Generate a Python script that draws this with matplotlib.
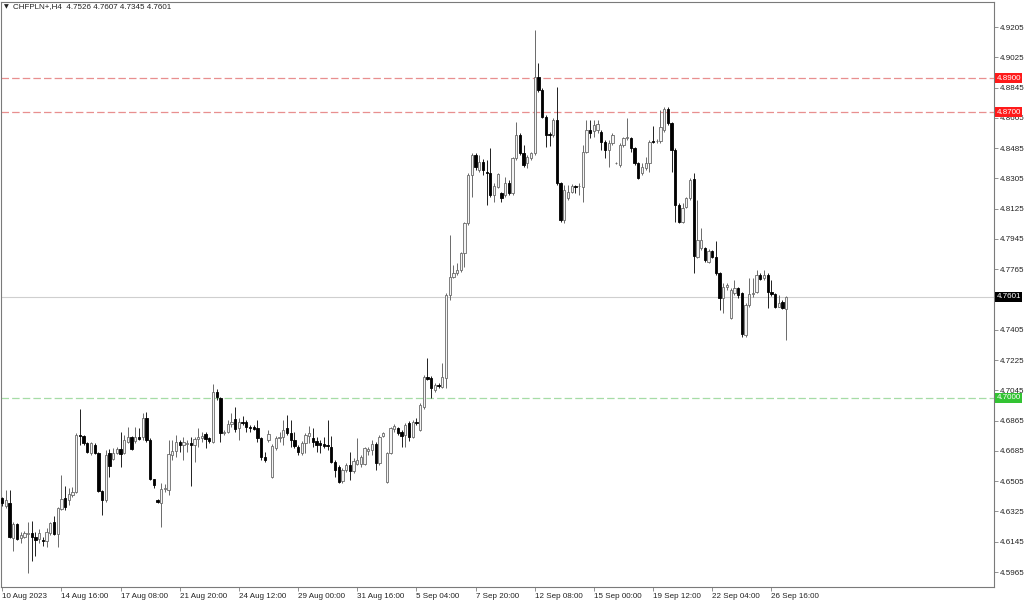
import matplotlib
matplotlib.use("Agg")
import matplotlib.pyplot as plt

plt.rcParams['font.family'] = ['Liberation Sans', 'DejaVu Sans']

# CHFPLN+ H4 candles, 10 Aug 2023 00:00 .. 27 Sep 2023 08:00
opens = [
    4.6405, 4.6357, 4.6375, 4.6167, 4.6250, 4.6167, 4.6173, 4.6191, 4.6197, 4.6173,
    4.6161, 4.6155, 4.6149, 4.6197, 4.6262, 4.6191, 4.6339, 4.6405, 4.6393, 4.6423,
    4.6441, 4.6779, 4.6774, 4.6732, 4.6672, 4.6720, 4.6672, 4.6447, 4.6393, 4.6672,
    4.6637, 4.6672, 4.6696, 4.6672, 4.6738, 4.6768, 4.6744, 4.6768, 4.6768, 4.6880,
    4.6750, 4.6518, 4.6393, 4.6375, 4.6458, 4.6452, 4.6661, 4.6684, 4.6738, 4.6720,
    4.6726, 4.6732, 4.6720, 4.6756, 4.6762, 4.6785, 4.6762, 4.6738, 4.7035, 4.6999,
    4.6791, 4.6797, 4.6845, 4.6875, 4.6821, 4.6857, 4.6857, 4.6827, 4.6827, 4.6821,
    4.6762, 4.6649, 4.6750, 4.6530, 4.6702, 4.6762, 4.6768, 4.6821, 4.6791, 4.6750,
    4.6708, 4.6672, 4.6732, 4.6774, 4.6762, 4.6744, 4.6732, 4.6726, 4.6720, 4.6708,
    4.6619, 4.6589, 4.6506, 4.6571, 4.6601, 4.6565, 4.6607, 4.6607, 4.6607, 4.6684,
    4.6690, 4.6726, 4.6613, 4.6774, 4.6500, 4.6672, 4.6815, 4.6821, 4.6797, 4.6779,
    4.6851, 4.6768, 4.6857, 4.6809, 4.6946, 4.7124, 4.7118, 4.7047, 4.7077, 4.7065,
    4.7118, 4.7612, 4.7719, 4.7743, 4.7760, 4.7861, 4.8040, 4.8325, 4.8444, 4.8355,
    4.8402, 4.8343, 4.8337, 4.8206, 4.8254, 4.8218, 4.8206, 4.8278, 4.8218, 4.8426,
    4.8563, 4.8456, 4.8396, 4.8426, 4.8456, 4.8908, 4.8830, 4.8670, 4.8569, 4.8563,
    4.8652, 4.8278, 4.8058, 4.8188, 4.8224, 4.8260, 4.8260, 4.8254, 4.8462, 4.8593,
    4.8587, 4.8593, 4.8581, 4.8521, 4.8474, 4.8515, 4.8396, 4.8385, 4.8503, 4.8545,
    4.8545, 4.8486, 4.8396, 4.8337, 4.8367, 4.8396, 4.8527, 4.8527, 4.8527, 4.8593,
    4.8717, 4.8634, 4.8474, 4.8147, 4.8046, 4.8135, 4.8188, 4.8301, 4.7838, 4.7891,
    4.7891, 4.7808, 4.7873, 4.7838, 4.7743, 4.7594, 4.7659, 4.7475, 4.7624, 4.7653,
    4.7624, 4.7374, 4.7552, 4.7618, 4.7630, 4.7731, 4.7713, 4.7731, 4.7630, 4.7618,
    4.7540, 4.7570, 4.7526,
]
highs = [
    4.6411, 4.6452, 4.6452, 4.6262, 4.6256, 4.6203, 4.6209, 4.6262, 4.6268, 4.6203,
    4.6221, 4.6173, 4.6227, 4.6262, 4.6298, 4.6351, 4.6542, 4.6476, 4.6464, 4.6470,
    4.6791, 4.6934, 4.6779, 4.6738, 4.6738, 4.6732, 4.6678, 4.6452, 4.6690, 4.6696,
    4.6702, 4.6708, 4.6797, 4.6779, 4.6827, 4.6774, 4.6827, 4.6821, 4.6910, 4.6916,
    4.6762, 4.6518, 4.6399, 4.6494, 4.6488, 4.6750, 4.6750, 4.6779, 4.6750, 4.6768,
    4.6750, 4.6768, 4.6768, 4.6821, 4.6797, 4.6797, 4.6768, 4.7083, 4.7053, 4.7005,
    4.6809, 4.6869, 4.6910, 4.6946, 4.6880, 4.6892, 4.6869, 4.6839, 4.6839, 4.6869,
    4.6768, 4.6678, 4.6809, 4.6726, 4.6774, 4.6797, 4.6869, 4.6898, 4.6869, 4.6797,
    4.6720, 4.6744, 4.6791, 4.6833, 4.6821, 4.6768, 4.6750, 4.6768, 4.6869, 4.6774,
    4.6631, 4.6601, 4.6583, 4.6613, 4.6678, 4.6643, 4.6762, 4.6661, 4.6708, 4.6708,
    4.6750, 4.6738, 4.6779, 4.6797, 4.6678, 4.6827, 4.6845, 4.6827, 4.6809, 4.6851,
    4.6863, 4.6869, 4.6880, 4.6970, 4.7136, 4.7237, 4.7130, 4.7089, 4.7089, 4.7208,
    4.7624, 4.7968, 4.7790, 4.7802, 4.7867, 4.8046, 4.8337, 4.8456, 4.8456, 4.8444,
    4.8420, 4.8414, 4.8486, 4.8278, 4.8337, 4.8224, 4.8313, 4.8295, 4.8432, 4.8640,
    4.8575, 4.8503, 4.8444, 4.8462, 4.9187, 4.8991, 4.8842, 4.8682, 4.8581, 4.8664,
    4.8848, 4.8284, 4.8266, 4.8266, 4.8272, 4.8266, 4.8278, 4.8503, 4.8652, 4.8652,
    4.8652, 4.8652, 4.8593, 4.8533, 4.8533, 4.8575, 4.8402, 4.8515, 4.8551, 4.8664,
    4.8551, 4.8492, 4.8402, 4.8396, 4.8432, 4.8533, 4.8616, 4.8539, 4.8712, 4.8729,
    4.8729, 4.8640, 4.8486, 4.8159, 4.8159, 4.8194, 4.8307, 4.8337, 4.8177, 4.8010,
    4.7897, 4.7885, 4.7879, 4.7933, 4.7748, 4.7683, 4.7683, 4.7653, 4.7701, 4.7659,
    4.7630, 4.7564, 4.7713, 4.7713, 4.7760, 4.7743, 4.7760, 4.7743, 4.7701, 4.7624,
    4.7612, 4.7582, 4.7607,
]
lows = [
    4.6357, 4.6345, 4.6167, 4.6090, 4.6155, 4.6137, 4.6167, 4.5959, 4.6030, 4.6060,
    4.6137, 4.6120, 4.6114, 4.6185, 4.6185, 4.6114, 4.6334, 4.6334, 4.6363, 4.6411,
    4.6435, 4.6720, 4.6720, 4.6672, 4.6661, 4.6666, 4.6441, 4.6304, 4.6381, 4.6530,
    4.6631, 4.6666, 4.6589, 4.6666, 4.6732, 4.6690, 4.6732, 4.6750, 4.6750, 4.6738,
    4.6512, 4.6464, 4.6375, 4.6233, 4.6441, 4.6423, 4.6631, 4.6649, 4.6678, 4.6631,
    4.6678, 4.6476, 4.6619, 4.6708, 4.6738, 4.6702, 4.6732, 4.6732, 4.6988, 4.6738,
    4.6779, 4.6791, 4.6827, 4.6797, 4.6750, 4.6839, 4.6797, 4.6797, 4.6809, 4.6738,
    4.6631, 4.6619, 4.6738, 4.6524, 4.6690, 4.6738, 4.6720, 4.6779, 4.6708, 4.6702,
    4.6661, 4.6661, 4.6672, 4.6732, 4.6708, 4.6678, 4.6672, 4.6702, 4.6690, 4.6613,
    4.6530, 4.6494, 4.6494, 4.6559, 4.6512, 4.6554, 4.6601, 4.6589, 4.6601, 4.6661,
    4.6661, 4.6571, 4.6601, 4.6768, 4.6494, 4.6666, 4.6797, 4.6779, 4.6708, 4.6708,
    4.6744, 4.6762, 4.6839, 4.6803, 4.6934, 4.7106, 4.6999, 4.7035, 4.7059, 4.7059,
    4.7059, 4.7582, 4.7713, 4.7731, 4.7748, 4.7778, 4.8028, 4.8194, 4.8355, 4.8343,
    4.8325, 4.8147, 4.8194, 4.8165, 4.8248, 4.8165, 4.8194, 4.8206, 4.8206, 4.8414,
    4.8444, 4.8373, 4.8367, 4.8414, 4.8444, 4.8819, 4.8664, 4.8492, 4.8498, 4.8551,
    4.8266, 4.8046, 4.8040, 4.8177, 4.8218, 4.8218, 4.8206, 4.8165, 4.8456, 4.8545,
    4.8551, 4.8575, 4.8474, 4.8426, 4.8373, 4.8503, 4.8391, 4.8373, 4.8492, 4.8533,
    4.8462, 4.8385, 4.8301, 4.8325, 4.8355, 4.8343, 4.8515, 4.8515, 4.8515, 4.8581,
    4.8622, 4.8343, 4.8046, 4.8040, 4.8040, 4.8129, 4.8177, 4.7743, 4.7832, 4.7879,
    4.7808, 4.7802, 4.7832, 4.7731, 4.7523, 4.7505, 4.7641, 4.7469, 4.7612, 4.7594,
    4.7362, 4.7362, 4.7540, 4.7600, 4.7624, 4.7701, 4.7701, 4.7534, 4.7606, 4.7534,
    4.7540, 4.7528, 4.7345,
]
closes = [
    4.6375, 4.6393, 4.6173, 4.6250, 4.6161, 4.6185, 4.6197, 4.6197, 4.6173, 4.6155,
    4.6197, 4.6149, 4.6203, 4.6256, 4.6191, 4.6345, 4.6399, 4.6351, 4.6429, 4.6441,
    4.6779, 4.6774, 4.6732, 4.6678, 4.6732, 4.6672, 4.6447, 4.6393, 4.6661, 4.6595,
    4.6672, 4.6696, 4.6666, 4.6750, 4.6768, 4.6696, 4.6768, 4.6756, 4.6880, 4.6750,
    4.6518, 4.6482, 4.6381, 4.6458, 4.6464, 4.6666, 4.6684, 4.6738, 4.6720, 4.6738,
    4.6732, 4.6720, 4.6756, 4.6768, 4.6774, 4.6756, 4.6744, 4.7035, 4.7005, 4.6791,
    4.6797, 4.6845, 4.6857, 4.6815, 4.6857, 4.6851, 4.6827, 4.6821, 4.6815, 4.6762,
    4.6649, 4.6631, 4.6785, 4.6714, 4.6762, 4.6768, 4.6809, 4.6791, 4.6750, 4.6714,
    4.6678, 4.6732, 4.6779, 4.6791, 4.6738, 4.6720, 4.6720, 4.6714, 4.6714, 4.6619,
    4.6571, 4.6500, 4.6571, 4.6601, 4.6565, 4.6625, 4.6631, 4.6649, 4.6702, 4.6696,
    4.6726, 4.6613, 4.6768, 4.6791, 4.6672, 4.6821, 4.6833, 4.6791, 4.6774, 4.6839,
    4.6768, 4.6857, 4.6851, 4.6958, 4.7124, 4.7112, 4.7059, 4.7077, 4.7071, 4.7124,
    4.7612, 4.7719, 4.7743, 4.7760, 4.7861, 4.8040, 4.8325, 4.8444, 4.8373, 4.8402,
    4.8355, 4.8337, 4.8206, 4.8260, 4.8331, 4.8188, 4.8278, 4.8218, 4.8426, 4.8563,
    4.8456, 4.8385, 4.8432, 4.8456, 4.8908, 4.8830, 4.8670, 4.8563, 4.8563, 4.8652,
    4.8278, 4.8058, 4.8236, 4.8224, 4.8260, 4.8254, 4.8260, 4.8462, 4.8593, 4.8575,
    4.8622, 4.8628, 4.8521, 4.8474, 4.8515, 4.8563, 4.8396, 4.8503, 4.8545, 4.8551,
    4.8486, 4.8396, 4.8307, 4.8373, 4.8396, 4.8521, 4.8521, 4.8527, 4.8610, 4.8717,
    4.8634, 4.8474, 4.8147, 4.8046, 4.8129, 4.8188, 4.8295, 4.7844, 4.7939, 4.7939,
    4.7820, 4.7873, 4.7838, 4.7743, 4.7594, 4.7659, 4.7671, 4.7641, 4.7653, 4.7612,
    4.7380, 4.7552, 4.7618, 4.7624, 4.7731, 4.7707, 4.7731, 4.7630, 4.7618, 4.7540,
    4.7564, 4.7534, 4.7601,
]

# time axis labels (every 16 bars)
date_ticks = [0, 16, 32, 48, 64, 80, 96, 112, 128, 144, 160, 176, 192, 208]
date_labels = ['10 Aug 2023', '14 Aug 16:00', '17 Aug 08:00', '21 Aug 20:00',
               '24 Aug 12:00', '29 Aug 00:00', '31 Aug 16:00', '5 Sep 04:00',
               '7 Sep 20:00', '12 Sep 08:00', '15 Sep 00:00', '19 Sep 12:00',
               '22 Sep 04:00', '26 Sep 16:00']
price_ticks = [4.5965, 4.6145, 4.6325, 4.6505, 4.6685, 4.6865, 4.7045, 4.7225,
               4.7405, 4.7585, 4.7765, 4.7945, 4.8125, 4.8305, 4.8485, 4.8665,
               4.8845, 4.9025, 4.9205]

resistance = [4.8900, 4.8700]
support = [4.7000]
last_price = closes[-1]

fig = plt.figure(figsize=(10.24, 6.0), dpi=100)
ax = fig.add_axes([0.0005, 13 / 600, 993.5 / 1024, 585 / 600])

n = len(opens)
xs = list(range(n))
bull = [c >= o for o, c in zip(opens, closes)]

# wicks: up bars look grey, down bars dark
wick_col = ['#6a6a6a' if b else '#202020' for b in bull]
ax.vlines(xs, lows, highs, colors=wick_col, linewidth=0.7, zorder=3)

# bodies
bottoms = [min(o, c) for o, c in zip(opens, closes)]
heights = [max(abs(c - o), 0.00025) for o, c in zip(opens, closes)]
face = ['#f4f4f4' if b else 'black' for b in bull]
edge = ['#6a6a6a' if b else 'black' for b in bull]
ax.bar(xs, heights, bottom=bottoms, width=0.62, color=face, edgecolor=edge,
       linewidth=0.6, zorder=4)

# levels
for lv in resistance:
    ax.axhline(lv, color='#e88f8f', linewidth=0.9, linestyle=(0, (6, 2.5)), zorder=1)
for lv in support:
    ax.axhline(lv, color='#a6dca6', linewidth=0.9, linestyle=(0, (6, 2.5)), zorder=1)
ax.axhline(last_price, color='#cfcfcf', linewidth=0.8, zorder=1)

ax.set_xlim(-0.46, 268.2)
ax.set_ylim(4.5876, 4.9354)

ax.yaxis.tick_right()
ax.set_yticks(price_ticks)
# the scale label next to the current price is covered by its box
ax.set_yticklabels(['' if abs(p - last_price) < 0.003 else f'{p:.4f}' for p in price_ticks])
ax.set_xticks(date_ticks)
ax.set_xticklabels(date_labels, ha='left')
ax.tick_params(axis='y', length=3, width=0.6, color='#808080', labelsize=5.8,
               pad=1.5, labelcolor='#222222')
ax.tick_params(axis='x', length=3, width=0.6, color='#808080', labelsize=5.8,
               pad=1.5, labelcolor='#222222')
for sp in ax.spines.values():
    sp.set_color('#7a7a7a')
    sp.set_linewidth(0.8)

# price boxes on the scale
yt = ax.get_yaxis_transform()
boxes = [(4.8900, '#ff1a1a'), (4.8700, '#ff1a1a'), (4.7000, '#33c333'), (last_price, '#000000')]
for lv, col in boxes:
    ax.text(1.0025, lv, f'{lv:.4f}', transform=yt, ha='left', va='center',
            fontsize=5.8, color='white', zorder=10, clip_on=False,
            bbox=dict(boxstyle='square,pad=0.18', fc=col, ec='none'))

# header
fig.text(4 / 1024, 1 - 6.5 / 600, '▼', fontsize=4.5, va='center', ha='left',
         color='#222222', family=['DejaVu Sans'])
fig.text(13 / 1024, 1 - 6.5 / 600,
         f'CHFPLN+,H4  {opens[-1]:.4f} {highs[-1]:.4f} {lows[-1]:.4f} {closes[-1]:.4f}',
         fontsize=5.8, va='center', ha='left', color='#222222')

fig.savefig('out.png', dpi=100)
plt.close(fig)
